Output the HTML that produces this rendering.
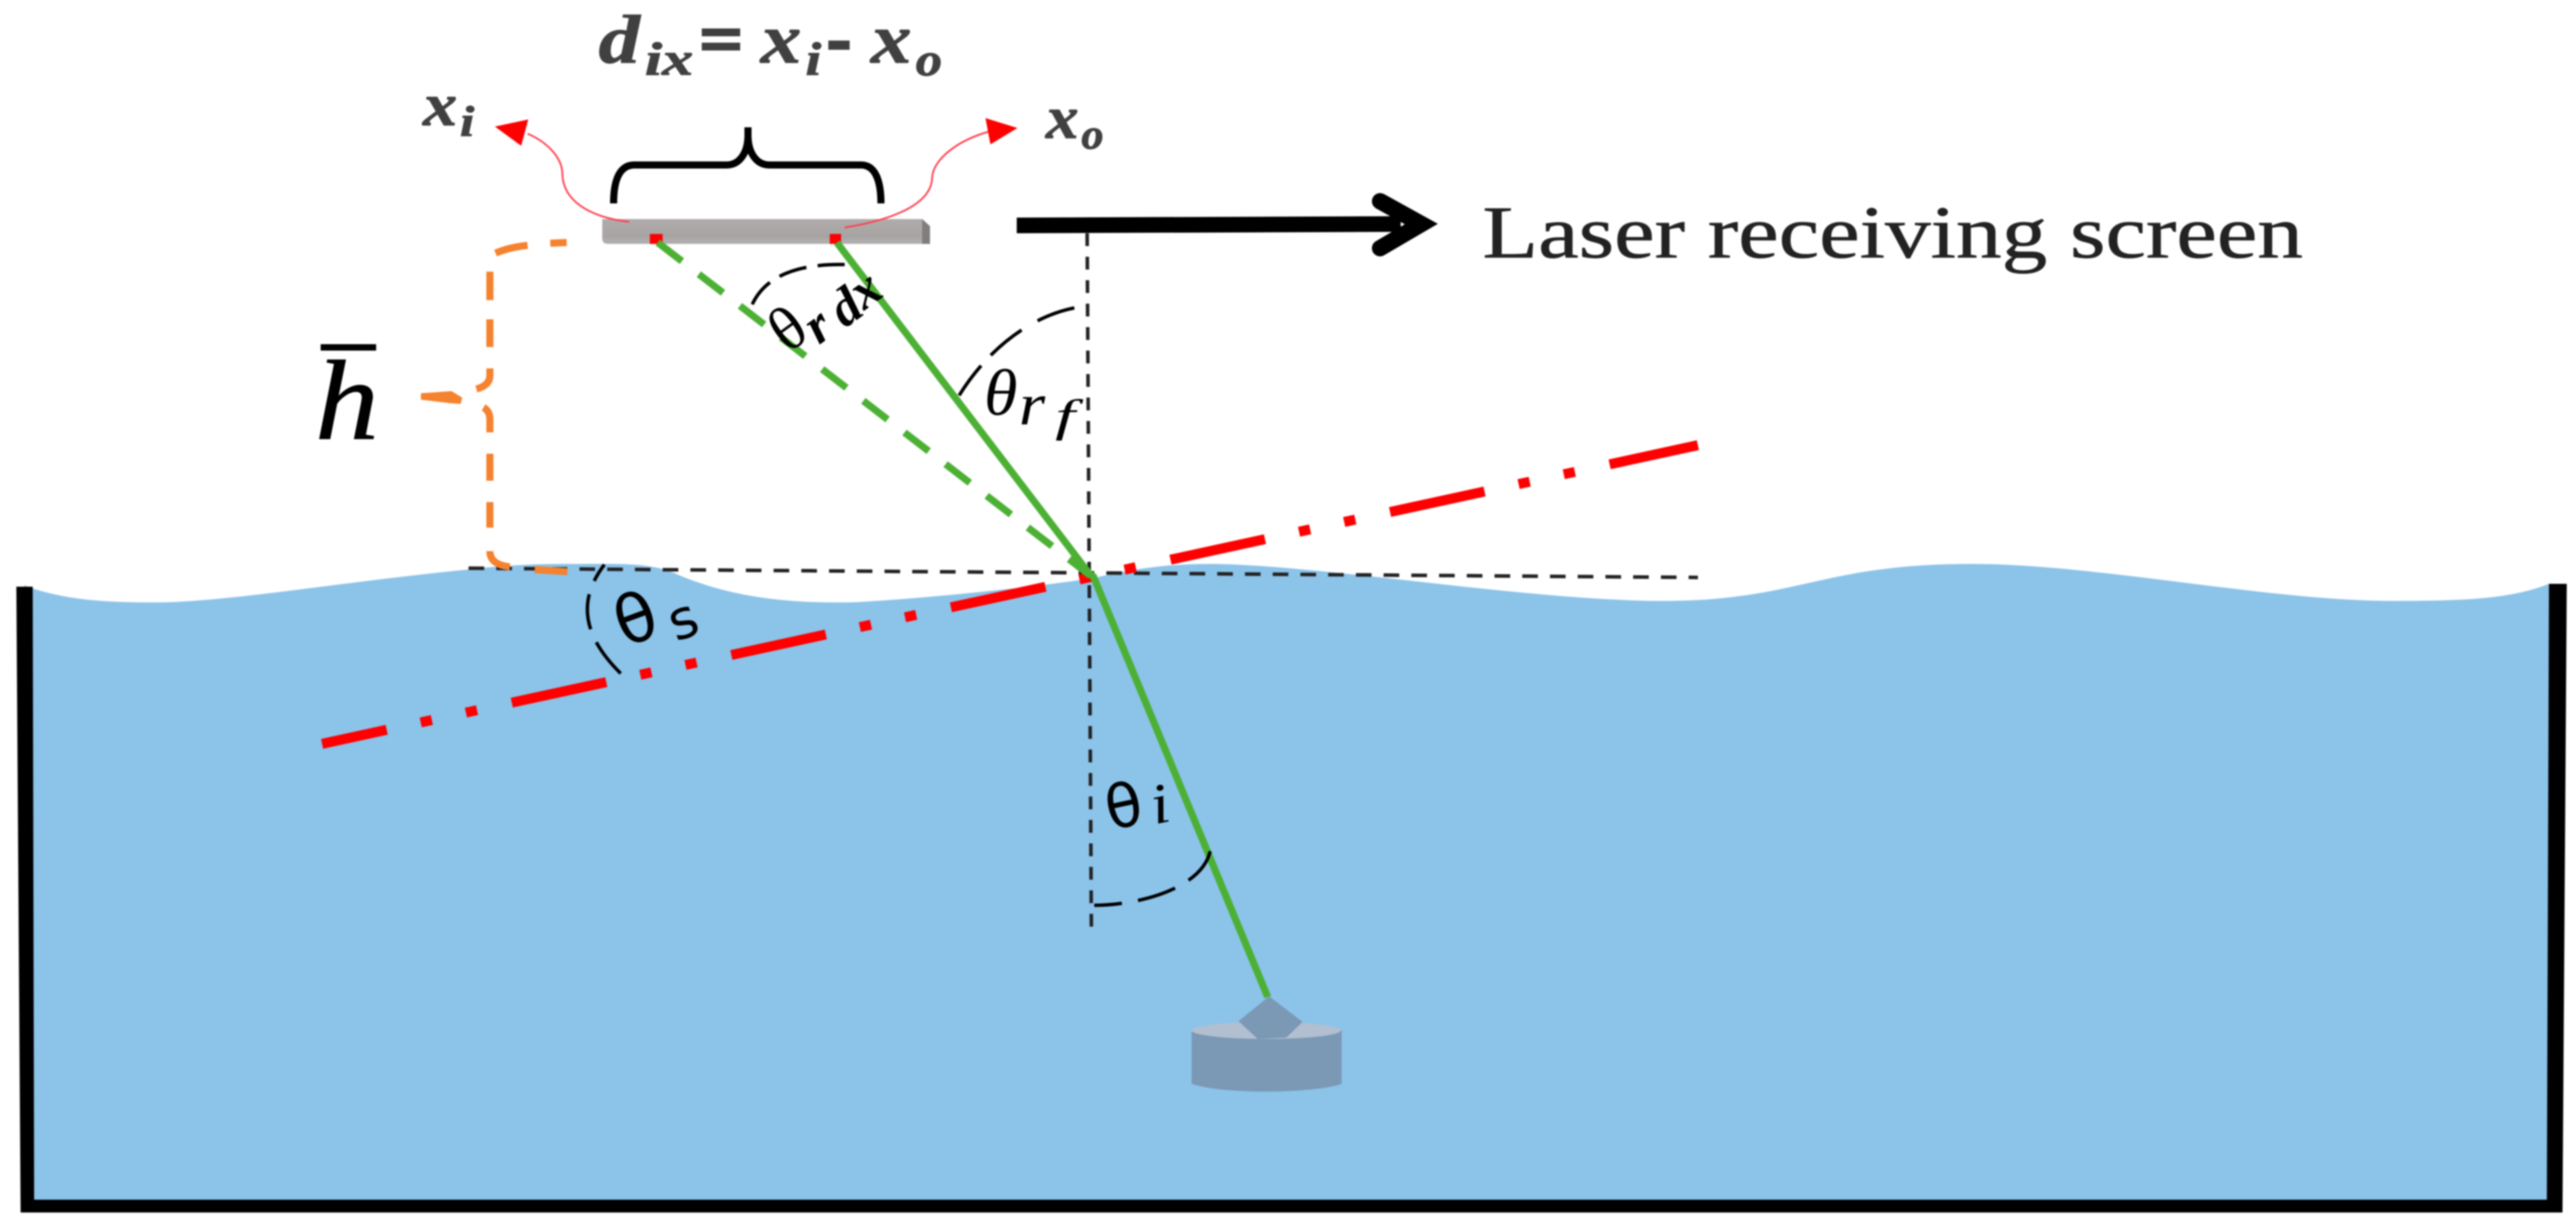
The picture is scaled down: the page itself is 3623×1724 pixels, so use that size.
<!DOCTYPE html>
<html>
<head>
<meta charset="utf-8">
<style>
html,body{margin:0;padding:0;background:#fff;width:3623px;height:1724px;overflow:hidden}
svg{display:block;filter:blur(1.1px)}
.s{font-family:"Liberation Serif",serif}
.b{font-family:"Liberation Serif",serif;font-style:italic;font-weight:bold;fill:#404040;stroke:#404040;stroke-width:1.2}
.t{font-family:"Liberation Serif",serif;font-style:italic;fill:#000}
.u{font-family:"DejaVu Sans",sans-serif;fill:#000}
</style>
</head>
<body>
<svg xmlns="http://www.w3.org/2000/svg" width="3623" height="1724" viewBox="0 0 3623 1724">
<defs>
<linearGradient id="bar" x1="0" y1="0" x2="0" y2="1"><stop offset="0" stop-color="#b0acac"/><stop offset="0.7" stop-color="#a8a4a4"/><stop offset="1" stop-color="#b4b1b1"/></linearGradient>
</defs>
<rect width="3623" height="1724" fill="#fff"/>

<!-- water -->
<path d="M34 823 C90 845 160 848 230 847 C330 845 500 816 657 801 C700 796 745 793 792 793 C870 793 915 790 953 808 C1040 845 1130 848 1197 847 C1300 842 1450 826 1538 813 C1600 798 1650 793 1700 793 C1850 793 2150 845 2338 845 C2530 845 2560 793 2772 793 C2950 793 3190 845 3365 845 C3460 845 3530 843 3585 821 L3585 1695 L40 1695 Z" fill="#8cc3e9"/>

<!-- tank walls -->
<polygon points="23,825 46,825 48,1687 3582,1687 3585,821 3610,821 3604,1705 29,1705" fill="#000"/>

<!-- thin dashed reference lines -->
<line x1="1529" y1="328" x2="1535" y2="1314" stroke="#222" stroke-width="5" stroke-dasharray="18 15"/>
<line x1="657" y1="799" x2="2388" y2="812" stroke="#222" stroke-width="5" stroke-dasharray="22 17" stroke-dashoffset="-2"/>

<!-- red dash-dot-dot surface normal -->
<line x1="453" y1="1046" x2="2388" y2="626" stroke="#fe0000" stroke-width="14" stroke-dasharray="136 49 16 49 16 50" stroke-dashoffset="43"/>

<!-- receiving screen -->
<path d="M847 308 H1297 V343 H855 Q847 343 847 335 Z" fill="url(#bar)"/>
<polygon points="1297,308 1308,318 1308,343 1297,343" fill="#7f7d7d"/>
<rect x="914" y="329" width="18" height="14" fill="#fe0000"/>
<rect x="1167" y="329" width="16" height="14" fill="#fe0000"/>

<!-- green rays -->
<line x1="925" y1="341" x2="1533" y2="809" stroke="#4cb034" stroke-width="10" stroke-dasharray="43 30"/>
<path d="M1177 341 L1533 808 L1538 811 L1783 1402" fill="none" stroke="#4cb034" stroke-width="10"/>

<!-- sensor -->
<path d="M1676 1449 V1524 C1700 1532 1740 1535 1781 1535 S1870 1531 1887 1524 V1449 Z" fill="#7b98b5"/>
<ellipse cx="1781" cy="1449" rx="105" ry="12" fill="#b1bfd0"/>
<polygon points="1785,1401 1832,1437 1809,1459 1769,1461 1742,1436" fill="#7b98b5"/>

<!-- angle arcs -->
<g fill="none" stroke="#000" stroke-width="4.8">
<path d="M1058 428 Q1085 370 1188 372" stroke-dasharray="40 16"/>
<path d="M1349 556 C1390 490 1450 445 1511 433" stroke-dasharray="52 20 56 26 70"/>
<path d="M850 794 C815 840 815 890 873 947" stroke-dasharray="27 20 50 20 60"/>
<path d="M1539 1273 C1600 1273 1690 1250 1702 1197" stroke-dasharray="39 23 55 22 60"/>
</g>

<!-- brace -->
<path d="M863 286 C863 252 872 232 892 232 H1022 C1040 232 1052 215 1052 190 V179 V190 C1052 215 1064 232 1082 232 H1211 C1230 232 1239 252 1239 286" fill="none" stroke="#000" stroke-width="10"/>

<!-- thin red curved arrows -->
<path d="M742 188 C770 200 791 222 791 245 C792 280 825 305 885 312" fill="none" stroke="#ff4050" stroke-width="2.5"/>
<polygon points="696,178 743,168 733,205" fill="#fe0000"/>
<path d="M1391 185 C1345 198 1312 225 1311 250 C1310 285 1262 308 1188 320" fill="none" stroke="#ff4050" stroke-width="2.5"/>
<polygon points="1386,166 1431,180 1393,203" fill="#fe0000"/>

<!-- orange bracket -->
<g fill="none" stroke="#f5822e" stroke-width="10">
<line x1="797" y1="341" x2="774" y2="342"/>
<path d="M742 345 Q715 348 697 356"/>
<line x1="689" y1="382" x2="689" y2="422"/>
<line x1="689" y1="449" x2="689" y2="488"/>
<path d="M689 518 V528 Q689 542 670 547"/>
<path d="M680 573 Q689 578 689 590 V608"/>
<line x1="689" y1="638" x2="689" y2="676"/>
<line x1="689" y1="706" x2="689" y2="742"/>
<path d="M689 775 Q689 794 717 797"/>
<line x1="752" y1="801" x2="798" y2="804"/>
</g>
<polygon points="592,553 635,550 650,559 648,568 633,567 592,562" fill="#f5822e"/>

<!-- black arrow -->
<polygon points="1430,306 1970,304 1970,326 1430,328" fill="#000"/>
<path d="M1941 283 L1999 315 L1941 349" stroke="#000" stroke-width="23" fill="none" stroke-linecap="round" stroke-linejoin="miter"/>

<!-- labels -->
<text class="s" x="2085" y="362" font-size="105" fill="#222" stroke="#222" stroke-width="0.8" textLength="1154" lengthAdjust="spacingAndGlyphs">Laser receiving screen</text>

<text class="b" x="842" y="88" font-size="96" textLength="58" lengthAdjust="spacingAndGlyphs">d</text>
<text class="b" x="907" y="105" font-size="66" textLength="68" lengthAdjust="spacingAndGlyphs">ix</text>
<rect x="987" y="40" width="54" height="11" fill="#404040"/>
<rect x="987" y="60" width="54" height="11" fill="#404040"/>
<text class="b" x="1070" y="88" font-size="100" textLength="57" lengthAdjust="spacingAndGlyphs">x</text>
<text class="b" x="1133" y="105" font-size="66" textLength="22" lengthAdjust="spacingAndGlyphs">i</text>
<rect x="1165" y="57" width="30" height="13" fill="#404040"/>
<text class="b" x="1225" y="88" font-size="100" textLength="57" lengthAdjust="spacingAndGlyphs">x</text>
<text class="b" x="1288" y="106" font-size="66" textLength="37" lengthAdjust="spacingAndGlyphs">o</text>

<text class="b" x="595" y="176" font-size="86" textLength="48" lengthAdjust="spacingAndGlyphs">x</text>
<text class="b" x="647" y="191" font-size="60" textLength="20" lengthAdjust="spacingAndGlyphs">i</text>
<text class="b" x="1471" y="194" font-size="86" textLength="46" lengthAdjust="spacingAndGlyphs">x</text>
<text class="b" x="1521" y="209" font-size="60" textLength="31" lengthAdjust="spacingAndGlyphs">o</text>

<rect x="451" y="484" width="78" height="9" fill="#000"/>
<text class="t" x="443" y="617" font-size="160" textLength="90" lengthAdjust="spacingAndGlyphs" stroke="#000" stroke-width="1">h</text>

<text class="t" x="1384" y="583" font-size="92" textLength="47" lengthAdjust="spacingAndGlyphs">θ</text>
<text class="t" x="1433" y="597" font-size="84" textLength="37" lengthAdjust="spacingAndGlyphs">r</text>
<text class="t" x="1484" y="606" font-size="64" textLength="28" lengthAdjust="spacingAndGlyphs">f</text>

<g class="s" fill="#000" text-anchor="middle">
<text transform="translate(1108,463) rotate(-36)" y="28" font-size="88">θ</text>
<text transform="translate(1154,464) rotate(-36)" y="16" font-size="74" font-style="italic" font-weight="bold">r</text>
<text transform="translate(1189,432) rotate(-36)" y="24" font-size="74" font-style="italic" font-weight="bold">d</text>
<text transform="translate(1221,413) rotate(-36)" y="16" font-size="74" font-style="italic" font-weight="bold">x</text>
</g>

<text class="u" transform="translate(893,868) rotate(-20)" y="35" font-size="94" text-anchor="middle">θ</text>
<text class="u" transform="translate(962,876) rotate(-20)" y="21" font-size="76" text-anchor="middle">s</text>

<text class="u" transform="translate(1580,1132) rotate(-12)" y="31" font-size="84" text-anchor="middle">θ</text>
<text class="t" transform="translate(1632,1135) rotate(-12)" y="22" font-size="80" text-anchor="middle" textLength="26" lengthAdjust="spacingAndGlyphs">i</text>
</svg>
</body>
</html>
